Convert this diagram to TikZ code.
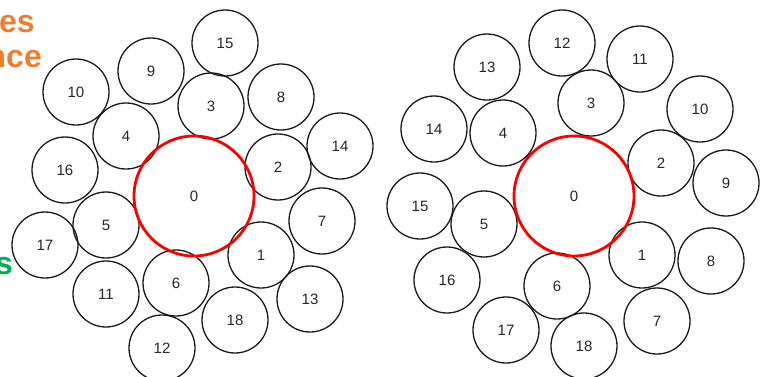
\documentclass[tikz,border=0pt]{standalone}
\usepackage{fontspec}
\setmainfont{Liberation Sans}
\usepackage{tikz}
\usetikzlibrary{positioning}
\definecolor{capOrange}{RGB}{237,125,49}
\definecolor{capGreen}{RGB}{0,176,80}

\begin{document}
\begin{tikzpicture}[x=1pt, y=-1pt,
  disc/.style={circle, draw=black!90, line width=1.3pt, minimum size=66pt, inner sep=0pt,
    text=black!85, font=\fontsize{15}{18}\selectfont},
  hub/.style={circle, draw=red, line width=2.8pt, minimum size=120pt, inner sep=0pt,
    text=black!85, font=\fontsize{15}{18}\selectfont},
  edgeword/.style={anchor=base east, inner sep=0pt, font=\fontsize{32}{36}\selectfont\bfseries}]
  \useasboundingbox (0,0) rectangle (760,376);
  % clipped caption words at the left edge
  \node[edgeword, text=capOrange] (wa) at (35,32) {es};
  \node[edgeword, text=capOrange] (wb) at (42,67) {nce};
  \node[edgeword, text=capGreen] (wc) at (13,274) {s};
  % left packing
  \node[disc] (l1) at (261,255) {1};
  \node[disc] (l2) at (278,167) {2};
  \node[disc] (l3) at (211,106) {3};
  \node[disc] (l4) at (126,136) {4};
  \node[disc] (l5) at (106,225) {5};
  \node[disc] (l6) at (176,283) {6};
  \node[disc] (l7) at (322,221) {7};
  \node[disc] (l8) at (281,97) {8};
  \node[disc] (l9) at (151,71) {9};
  \node[disc] (l10) at (76,92) {10};
  \node[disc] (l11) at (106,294) {11};
  \node[disc] (l12) at (162,348) {12};
  \node[disc] (l13) at (310,299) {13};
  \node[disc] (l14) at (340,146) {14};
  \node[disc] (l15) at (225,43) {15};
  \node[disc] (l16) at (65,170) {16};
  \node[disc] (l17) at (45,245) {17};
  \node[disc] (l18) at (235,320) {18};
  \node[hub] (l0) at (194,196) {0};
  % right packing
  \node[disc] (r1) at (642,255) {1};
  \node[disc] (r2) at (661,163) {2};
  \node[disc] (r3) at (591,103) {3};
  \node[disc] (r4) at (503,133) {4};
  \node[disc] (r5) at (484,224) {5};
  \node[disc] (r6) at (557,286) {6};
  \node[disc] (r7) at (657,321) {7};
  \node[disc] (r8) at (711,261) {8};
  \node[disc] (r9) at (726,183) {9};
  \node[disc] (r10) at (700,109) {10};
  \node[disc] (r11) at (640,59) {11};
  \node[disc] (r12) at (562,43) {12};
  \node[disc] (r13) at (487,67) {13};
  \node[disc] (r14) at (434,129) {14};
  \node[disc] (r15) at (420,206) {15};
  \node[disc] (r16) at (447,280) {16};
  \node[disc] (r17) at (506,330) {17};
  \node[disc] (r18) at (584,346) {18};
  \node[hub] (r0) at (574,196) {0};
\end{tikzpicture}
\end{document}
